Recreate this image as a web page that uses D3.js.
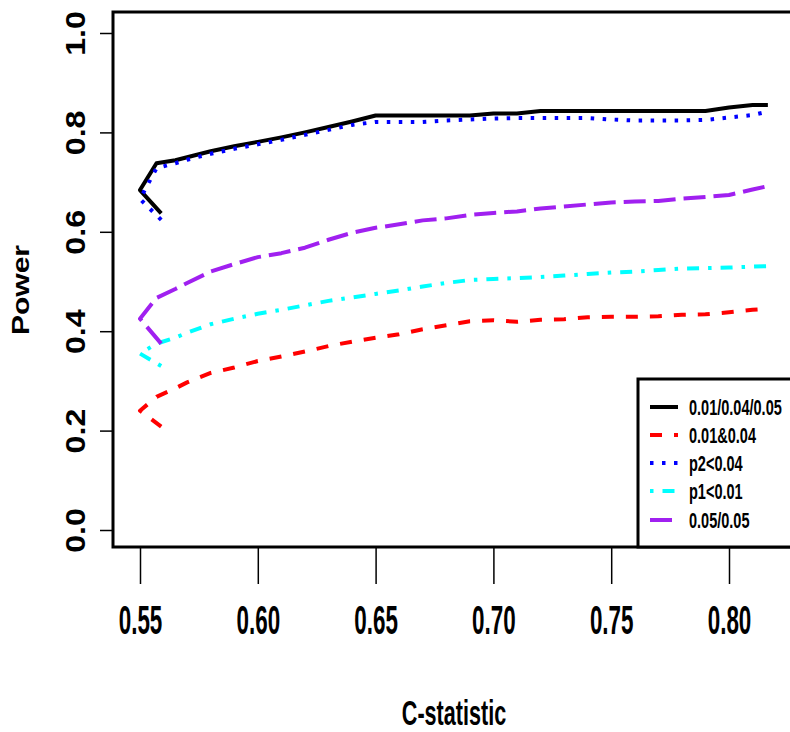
<!DOCTYPE html>
<html>
<head>
<meta charset="utf-8">
<script src="https://cdn.jsdelivr.net/npm/d3@7/dist/d3.min.js"></script>
<style>
  html, body { margin: 0; padding: 0; background: #fff; }
  svg { display: block; }
  text { font-family: "Liberation Sans", Arial, sans-serif; font-weight: bold; fill: #000; }
</style>
</head>
<body>
<div id="chart"></div>
<script>
// ---- data ----
const cStatistic = [0.559, 0.55, 0.557, 0.565, 0.57, 0.58, 0.59, 0.60, 0.61, 0.62, 0.63, 0.64, 0.65, 0.66, 0.67,
  0.68, 0.69, 0.70, 0.71, 0.72, 0.73, 0.74, 0.75, 0.76, 0.77, 0.78, 0.79, 0.80, 0.81, 0.8165];
const power_01_04_05 = [0.637, 0.684, 0.738, 0.744, 0.750, 0.762, 0.772, 0.781, 0.790, 0.800, 0.811, 0.822, 0.834, 0.834, 0.834,
  0.834, 0.834, 0.838, 0.838, 0.843, 0.843, 0.843, 0.843, 0.843, 0.843, 0.843, 0.843, 0.850, 0.855, 0.855];
const power_01and04 = [0.208, 0.240, 0.268, 0.285, 0.297, 0.316, 0.327, 0.340, 0.349, 0.359, 0.370, 0.379, 0.387, 0.394, 0.404,
  0.412, 0.420, 0.422, 0.419, 0.423, 0.424, 0.428, 0.429, 0.429, 0.430, 0.433, 0.434, 0.438, 0.443, 0.445];
const power_p2 = [0.624, 0.666, 0.728, 0.738, 0.745, 0.757, 0.767, 0.776, 0.785, 0.795, 0.805, 0.815, 0.821, 0.821, 0.821,
  0.824, 0.826, 0.828, 0.829, 0.829, 0.829, 0.829, 0.826, 0.824, 0.824, 0.824, 0.825, 0.830, 0.835, 0.842];
const power_p1 = [0.330, 0.355, 0.375, 0.387, 0.397, 0.414, 0.425, 0.435, 0.443, 0.452, 0.461, 0.468, 0.475, 0.482, 0.490,
  0.497, 0.503, 0.505, 0.507, 0.509, 0.512, 0.515, 0.518, 0.520, 0.523, 0.526, 0.527, 0.528, 0.530, 0.531];
const power_05_05 = [0.375, 0.425, 0.467, 0.485, 0.497, 0.520, 0.535, 0.549, 0.557, 0.568, 0.584, 0.598, 0.608, 0.615, 0.623,
  0.627, 0.634, 0.638, 0.641, 0.647, 0.651, 0.655, 0.659, 0.661, 0.662, 0.667, 0.670, 0.674, 0.685, 0.692];
const seriesLabels = ["0.01/0.04/0.05", "0.01&0.04", "p2<0.04", "p1<0.01", "0.05/0.05"];
const xTicks = [0.55, 0.60, 0.65, 0.70, 0.75, 0.80];
const yTicks = [0.0, 0.2, 0.4, 0.6, 0.8, 1.0];

// ---- styles ----
const seriesValues = [power_01_04_05, power_01and04, power_p2, power_p1, power_05_05];
const colors = ["#000000", "#ff0000", "#0000ff", "#00ffff", "#a020f0"];
const dashes = [null, "12,12", "3.5,8.5", "3.5,9,12,9", "22,8"];

const W = 790, H = 732;
const svg = d3.select("#chart").append("svg").attr("width", W).attr("height", H);

const x = d3.scaleLinear().domain([0.55, 0.80]).range([140, 729]);
const y = d3.scaleLinear().domain([0, 1]).range([530, 33]);

const box = { left: 113, top: 12, right: 800, bottom: 547 };

// lines
const line = d3.line().x(d => x(d.c)).y(d => y(d.p));
seriesValues.forEach((vals, i) => {
  const pts = cStatistic.map((c, j) => ({ c, p: vals[j] }));
  svg.append("path").datum(pts)
    .attr("d", line)
    .attr("fill", "none")
    .attr("stroke", colors[i])
    .attr("stroke-width", 4)
    .attr("stroke-linecap", "butt")
    .attr("stroke-linejoin", "round")
    .attr("stroke-dasharray", dashes[i]);
});

// plot box
svg.append("rect")
  .attr("x", box.left).attr("y", box.top)
  .attr("width", box.right - box.left).attr("height", box.bottom - box.top)
  .attr("fill", "none").attr("stroke", "#000").attr("stroke-width", 3);

// x axis
const gx = svg.append("g").attr("transform", `translate(0,${box.bottom})`)
  .call(d3.axisBottom(x).tickValues(xTicks).tickSize(37).tickFormat(d3.format(".2f")));
gx.select(".domain").remove();
gx.selectAll("line").attr("stroke", "#000").attr("stroke-width", 1.5);
gx.selectAll("text")
  .attr("y", 87).attr("dy", null)
  .attr("font-size", 40)
  .attr("text-anchor", "middle")
  .attr("transform", "scale(0.56,1)");

// y axis
const gy = svg.append("g").attr("transform", `translate(${box.left},0)`)
  .call(d3.axisLeft(y).tickValues(yTicks).tickSize(13).tickFormat(d3.format(".1f")));
gy.select(".domain").remove();
gy.selectAll("line").attr("stroke", "#000").attr("stroke-width", 1.5);
gy.selectAll("text")
  .attr("x", 0).attr("y", -28).attr("dy", null)
  .attr("font-size", 28)
  .attr("text-anchor", "middle")
  .attr("transform", "rotate(-90) scale(1.15,1)");

// axis titles
svg.append("text")
  .attr("transform", "translate(454,725) scale(0.6,1)")
  .attr("text-anchor", "middle")
  .attr("font-size", 36)
  .text("C-statistic");
svg.append("text")
  .attr("transform", "translate(29,290) rotate(-90) scale(1.25,1)")
  .attr("text-anchor", "middle")
  .attr("font-size", 24)
  .text("Power");

// legend
const lg = { left: 638, top: 379 };
svg.append("rect")
  .attr("x", lg.left).attr("y", lg.top)
  .attr("width", 800 - lg.left).attr("height", box.bottom - lg.top)
  .attr("fill", "#fff").attr("stroke", "#000").attr("stroke-width", 3);
const rowY = [407, 435, 463, 491, 520];
seriesLabels.forEach((lab, i) => {
  svg.append("line")
    .attr("x1", 650).attr("x2", 678)
    .attr("y1", rowY[i]).attr("y2", rowY[i])
    .attr("stroke", colors[i]).attr("stroke-width", 4)
    .attr("stroke-dasharray", dashes[i]);
  svg.append("text")
    .attr("transform", `translate(689,${rowY[i] + 8}) scale(0.66,1)`)
    .attr("font-size", 22)
    .text(lab);
});
</script>
</body>
</html>
